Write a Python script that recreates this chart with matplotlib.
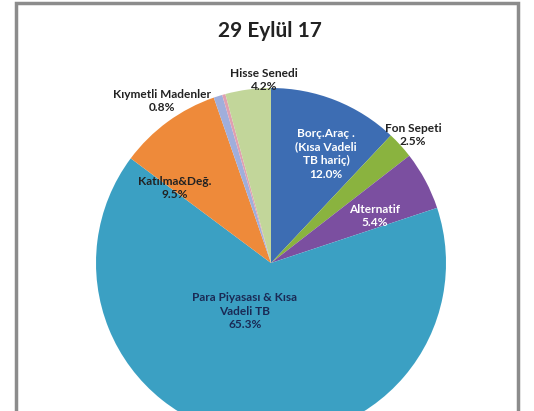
import matplotlib
matplotlib.use("Agg")
import matplotlib.pyplot as plt
from matplotlib.patches import Rectangle

plt.rcParams['font.family'] = ['Lato', 'DejaVu Sans']

# Fon dağılımı (saat 12 yönünden saat yönünde)
kategoriler = ["Borç.Araç .\n(Kısa Vadeli\nTB hariç)", "Fon Sepeti", "Alternatif",
               "Para Piyasası & Kısa\nVadeli TB", "Katılma&Değ.", "Kıymetli Madenler",
               "Diğer", "Hisse Senedi"]
oranlar = [12.0, 2.5, 5.4, 65.3, 9.5, 0.8, 0.3, 4.2]
renkler = ["#3D6DB3", "#8AB33F", "#7B4FA0", "#3BA0C3", "#EE8A3A", "#A0AEDB",
           "#E0A0B0", "#C2D69A"]

# etiket konumları (piksel) ve renkleri
etiket_xy = [(326, 154), (413, 135), (375, 216), (245, 311), (175, 188),
             (162, 101), None, (264, 80)]
etiket_renk = ["white", "#222222", "white", "#1a2a55", "#222222", "#222222",
               None, "#222222"]

W, H = 534, 411
cx, cy, r = 271, 263, 175

fig = plt.figure(figsize=(W / 100, H / 100), dpi=100)
ax = fig.add_axes([(cx - r) / W, (H - cy - r) / H, 2 * r / W, 2 * r / H])
ax.pie(oranlar, colors=renkler, startangle=90, counterclock=False, radius=1,
       wedgeprops=dict(linewidth=0))
ax.set_xlim(-1, 1)
ax.set_ylim(-1, 1)
ax.set_aspect("equal")
ax.axis("off")

for ad, oran, xy, renk in zip(kategoriler, oranlar, etiket_xy, etiket_renk):
    if xy is None:
        continue
    x = (xy[0] - cx) / r
    y = (cy - xy[1]) / r
    ax.text(x, y, f"{ad}\n{oran:.1f}%", ha="center", va="center", fontsize=8.6,
            fontweight="bold", color=renk, linespacing=1.3, clip_on=False)

fig.text(270 / W, 1 - 31 / H, "29 Eylül 17", ha="center", va="center",
         fontsize=15, fontweight="bold", color="#222222")

# çerçeve
fig.patches.append(Rectangle((16 / W, -0.1), 502 / W, 1.1 - 3 / H,
                             transform=fig.transFigure, fill=False,
                             edgecolor="#8C8C8C", linewidth=2.5))

fig.savefig("out.png", dpi=100)
